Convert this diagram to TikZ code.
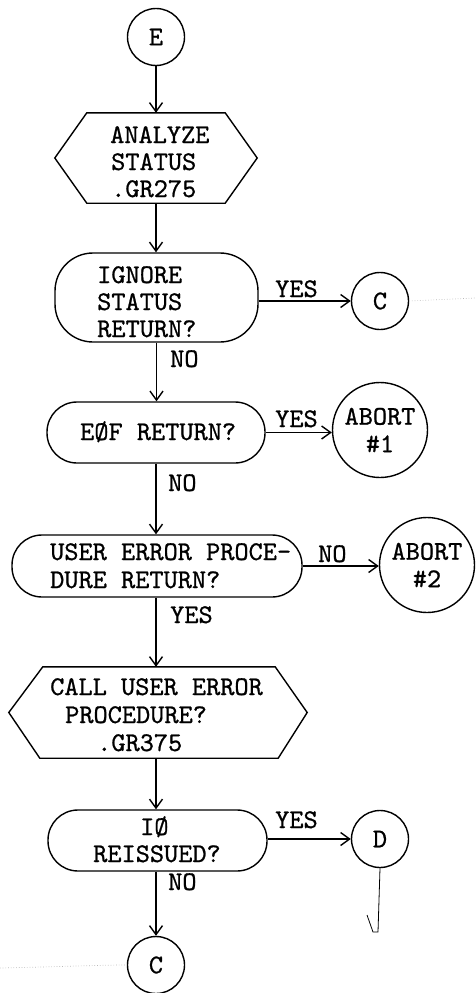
\documentclass[tikz,border=0pt]{standalone}
\usepackage{fontspec}
\newfontfamily\typewr{lmmono10-regular.otf}[FakeBold=0.8]
\usetikzlibrary{arrows.meta,calc}

\begin{document}
\begin{tikzpicture}[x=1pt,y=-1pt,
  every node/.style={inner sep=0pt, font=\typewr\fontsize{27}{27.5}\selectfont},
  ln/.style={line width=1.4pt},
  conn/.style={ln, -{Straight Barb[length=9pt,width=13pt]}},
  term/.style={draw, ln, circle, minimum size=57pt},
  bigterm/.style={draw, ln, circle, minimum size=95pt, align=center},
  decide/.style={draw, ln, rectangle, rounded corners=30pt},
  prep/.style={rectangle},
  txt/.style={anchor=base west},
  faint/.style={gray!55, dotted, line width=0.7pt},
]
\useasboundingbox (0,0) rectangle (475,993);

% terminals and connectors
\node[term] (e) at (156,37) {E};
\node[term] (c1) at (380,301) {C};
\node[bigterm] (a1) at (380,430) {ABORT\\\#1};
\node[bigterm] (a2) at (427,565) {ABORT\\\#2};
\node[term] (d) at (380,839) {D};
\node[term] (c2) at (156,965) {C};

% preparation (hexagon) blocks
\node[prep, minimum width=202pt, minimum height=90pt] (h1) at (156,158) {};
\draw[ln] (h1.west) -- ([xshift=32pt]h1.north west) -- ([xshift=-32pt]h1.north east)
  -- (h1.east) -- ([xshift=-32pt]h1.south east) -- ([xshift=32pt]h1.south west) -- cycle;
\node[prep, minimum width=298pt, minimum height=91pt] (h2) at (158,712.5) {};
\draw[ln] (h2.west) -- ([xshift=34pt]h2.north west) -- ([xshift=-32pt]h2.north east)
  -- (h2.east) -- ([xshift=-29pt]h2.south east) -- ([xshift=31pt]h2.south west) -- cycle;

% decision blocks
\node[decide, rounded corners=38pt, minimum width=203pt, minimum height=89pt] (q1) at (156.5,297.5) {};
\node[decide, minimum width=218pt, minimum height=61pt] (q2) at (156,432.5) {};
\node[decide, minimum width=290pt, minimum height=62pt] (q3) at (157,566) {};
\node[decide, minimum width=219pt, minimum height=61pt] (q4) at (157.5,840.5) {};

% block texts
\node[txt] (t1a) at (110,143) {ANALYZE};
\node[txt] (t1b) at (111,170) {STATUS};
\node[txt] (t1c) at (111,197) {.GR275};
\node[txt] (t2a) at (97,283) {IGNORE};
\node[txt] (t2b) at (97,310) {STATUS};
\node[txt] (t2c) at (97,337) {RETURN?};
\node[txt] (t3) at (80,440) {EØF RETURN?};
\node[txt] (t4a) at (50,560) {USER ERROR PROCE-};
\node[txt] (t4b) at (50,588) {DURE RETURN?};
\node[txt] (t5a) at (50,695) {CALL USER ERROR};
\node[txt] (t5b) at (65,723) {PROCEDURE?};
\node[txt] (t5c) at (97,751) {.GR375};
\node[txt] (t6a) at (140,835) {IØ};
\node[txt] (t6b) at (93,862) {REISSUED?};

% flow lines
\draw[conn] (e) -- (h1);
\draw[conn] (h1.south) -- (h1.south |- q1.north);
\draw[conn] (q1.south) -- (q1.south |- q2.north);
\draw[conn] (q2.south) -- (q2.south |- q3.north);
\draw[conn] (q2.south |- q3.south) -- (q2.south |- h2.north);
\draw[conn] (q2.south |- h2.south) -- (q2.south |- q4.north);
\draw[conn] (c2.north |- q4.south) -- (c2.north);
\draw[conn] (q1.east |- c1) -- (c1.west);
\draw[conn] (q2.east) -- (q2.east -| a1.west);
\draw[conn] (q3.east) -- (q3.east -| a2.west);
\draw[conn] (q4.east |- d) -- (d.west);

% branch labels
\node[txt] (l1y) at (275,297) {YES};
\node[txt] (l1n) at (170,367) {NO};
\node[txt] (l2y) at (275,427) {YES};
\node[txt] (l2n) at (168,491) {NO};
\node[txt] (l3n) at (318,562) {NO};
\node[txt] (l3y) at (170,623) {YES};
\node[txt] (l4y) at (275,828) {YES};
\node[txt] (l4n) at (168,890) {NO};

% pencil marks
\coordinate (dend) at (378,932);
\draw[line width=0.8pt] (d.south) -- (dend) -- (373,932) -- (367,915);
\draw[faint] (c1.east) -- (475,298);
\draw[faint] (0,968) .. controls (50,967) and (100,965) .. (c2.west);
\end{tikzpicture}
\end{document}
